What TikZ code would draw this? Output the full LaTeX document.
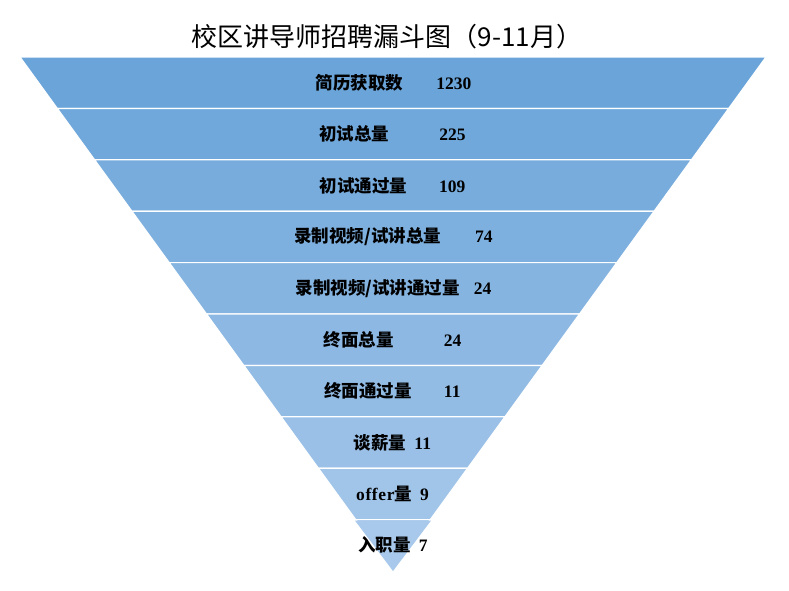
\documentclass[tikz,border=0pt]{standalone}
\usepackage{fontspec}
\setmainfont{Liberation Serif}
\newfontfamily\cjk{Noto Sans CJK SC}
\definecolor{funtop}{RGB}{106,164,217}
\definecolor{funbot}{RGB}{168,201,235}
\tikzset{
  band/.style={fill=#1, draw=white, line width=1.2pt},
  lab/.style={font=\fontsize{17.5}{20}\selectfont\bfseries, inner sep=0pt},
  ttl/.style={font=\cjk\fontsize{26}{30}\selectfont, inner sep=0pt}
}
\begin{document}
\begin{tikzpicture}[x=1pt, y=-1pt]
  \useasboundingbox (0,0) rectangle (789,590);
  \node[ttl] (title) at (387,37) {校区讲导师招聘漏斗图（9-11月）};

  % funnel bands, top 57 to apex 571, half width 373
  \foreach \i in {0,...,9} {
    \pgfmathsetmacro{\ya}{57+51.4*\i}
    \pgfmathsetmacro{\yb}{57+51.4*(\i+1)}
    \pgfmathsetmacro{\wa}{373*(1-(\ya-57)/514)}
    \pgfmathsetmacro{\wb}{373*(1-(\yb-57)/514)}
    \pgfmathtruncatemacro{\mix}{100-\i*11}
    \path[band=funtop!\mix!funbot] (393-\wa,\ya) -- (393+\wa,\ya)
      -- (393+\wb,\yb) -- (393-\wb,\yb) -- cycle;
  }
  \fill[funbot] (393-38,520.6) -- (393+38,520.6) -- (393,571) -- cycle;

  \node[lab] (r1) at (393.5,82.7) {{\cjk 简历获取数}\hspace{33pt}1230};
  \node[lab] (r2) at (392.5,134.1) {{\cjk 初试总量}\hspace{50pt}225};
  \node[lab] (r3) at (392.5,185.5) {{\cjk 初试通过量}\hspace{32pt}109};
  \node[lab] (r4) at (393.5,236.9) {{\cjk 录制视频/试讲总量}\hspace{34pt}74};
  \node[lab] (r5) at (393.5,288.3) {{\cjk 录制视频/试讲通过量}\hspace{14pt}24};
  \node[lab] (r6) at (392.5,339.7) {{\cjk 终面总量}\hspace{50pt}24};
  \node[lab] (r7) at (392.5,391.1) {{\cjk 终面通过量}\hspace{32pt}11};
  \node[lab] (r8) at (392.5,442.5) {{\cjk 谈薪量}\hspace{8pt}11};
  \node[lab] (r9) at (392.5,493.9) {o\hspace{0.6pt}f\hspace{0.6pt}f\hspace{0.6pt}e\hspace{0.6pt}r{\cjk 量}\hspace{8pt}9};
  \node[lab] (r10) at (393,545.3) {{\cjk 入职量}\hspace{8pt}7};
\end{tikzpicture}
\end{document}
